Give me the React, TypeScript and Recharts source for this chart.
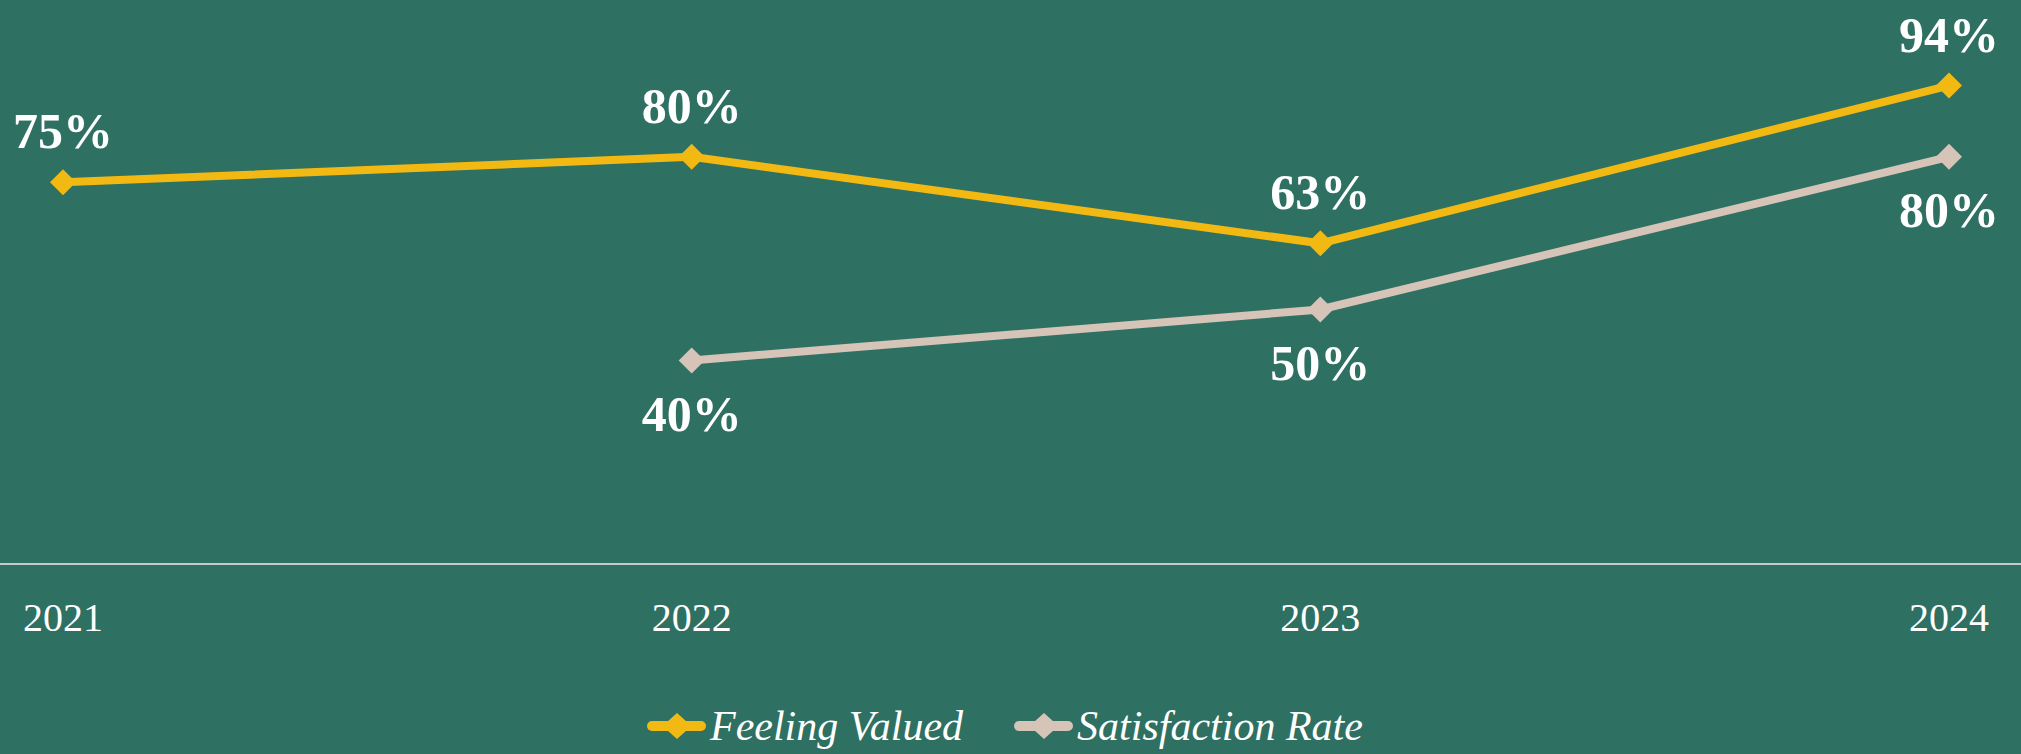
import { Legend, LabelList, Line, LineChart, XAxis, YAxis } from "recharts";

const years = ["2021", "2022", "2023", "2024"];
const feelingValued = [75, 80, 63, 94];
const satisfactionRate = [null, 40, 50, 80];

const data = years.map((year, i) => ({
  year,
  valued: feelingValued[i],
  satisfaction: satisfactionRate[i],
}));

const BG = "#2E7062";
const YELLOW = "#F3B913";
const BEIGE = "#D6C4B8";
const SERIF = "'Liberation Serif', 'Times New Roman', serif";

function diamond(color: string) {
  return (props: any) => {
    const { cx, cy, index } = props;
    if (cx == null || cy == null) return <g key={index} />;
    return (
      <path
        key={index}
        d={`M${cx},${cy - 13} L${cx + 13},${cy} L${cx},${cy + 13} L${cx - 13},${cy} Z`}
        fill={color}
      />
    );
  };
}

function LegendMarker({ color }: { color: string }) {
  return (
    <svg width={59} height={30} style={{ display: "block" }}>
      <line x1={5} x2={54} y1={15} y2={15} stroke={color} strokeWidth={10} strokeLinecap="round" />
      <path d="M30,2 L44.5,15 L30,28 L15.5,15 Z" fill={color} />
    </svg>
  );
}

function renderLegend(props: any) {
  const items = props.payload || [];
  return (
    <div
      style={{
        display: "flex",
        alignItems: "center",
        fontFamily: SERIF,
        fontStyle: "italic",
        fontSize: 42,
        lineHeight: "42px",
        color: "#FFFFFF",
        whiteSpace: "nowrap",
      }}
    >
      {items.map((item: any, i: number) => (
        <div key={i} style={{ display: "flex", alignItems: "center", marginRight: 51 }}>
          <LegendMarker color={item.color} />
          <span style={{ marginLeft: 4 }}>{item.value}</span>
        </div>
      ))}
    </div>
  );
}

export default function App() {
  return (
    <div style={{ width: 2021, height: 754, background: BG }}>
      <style>{`body{margin:0}`}</style>
      <LineChart width={2021} height={754} data={data} margin={{ top: 55, right: 0, bottom: 160, left: 0 }}>
        <XAxis
          dataKey="year"
          height={30}
          interval={0}
          padding={{ left: 63, right: 72 }}
          axisLine={{ stroke: "#C8C8C8", strokeWidth: 2 }}
          tickLine={false}
          tickSize={0}
          tickMargin={39}
          tick={{ fill: "#FFFFFF", fontSize: 40, fontFamily: SERIF }}
        />
        <YAxis hide domain={[0, 100]} />
        <Legend
          layout="horizontal"
          verticalAlign="middle"
          align="center"
          wrapperStyle={{ top: 705, left: 647, width: "auto" }}
          content={renderLegend}
        />
        <Line
          dataKey="valued"
          name="Feeling Valued"
          stroke={YELLOW}
          strokeWidth={8}
          dot={diamond(YELLOW)}
          activeDot={false}
          isAnimationActive={false}
        >
          <LabelList
            dataKey="valued"
            position="top"
            offset={34}
            formatter={(v: any) => `${v}%`}
            fill="#FFFFFF"
            fontSize={50}
            fontWeight="bold"
            fontFamily={SERIF}
          />
        </Line>
        <Line
          dataKey="satisfaction"
          name="Satisfaction Rate"
          stroke={BEIGE}
          strokeWidth={8}
          dot={diamond(BEIGE)}
          activeDot={false}
          isAnimationActive={false}
        >
          <LabelList
            dataKey="satisfaction"
            position="bottom"
            offset={35}
            formatter={(v: any) => (v == null ? "" : `${v}%`)}
            fill="#FFFFFF"
            fontSize={50}
            fontWeight="bold"
            fontFamily={SERIF}
          />
        </Line>
      </LineChart>
    </div>
  );
}
